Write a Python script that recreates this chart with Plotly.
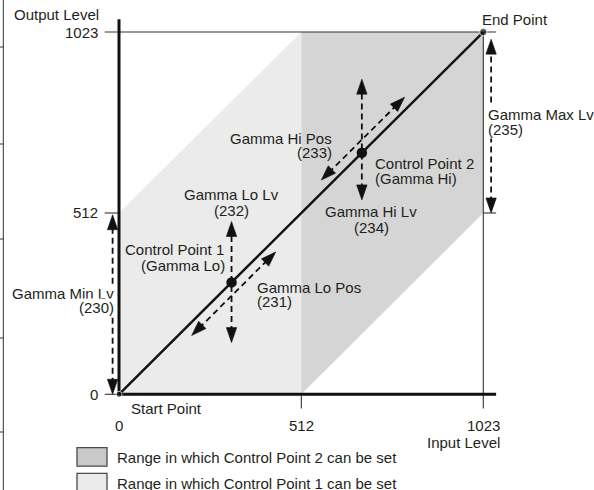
import math
import plotly.graph_objects as go

# ---------------- data ----------------
tick_values = [0, 512, 1023]
tick_labels = ["0", "512", "1023"]
axis_end = 1059            # axis lines run slightly past 1023
tick_len = 40              # tick length in data units

start_point = [0, 0]
end_point = [1023, 1023]
cp1 = [316, 316]           # Control Point 1 (Gamma Lo)
cp2 = [682, 682]           # Control Point 2 (Gamma Hi)

cp1_range_x = [0, 512, 512, 0]
cp1_range_y = [0, 0, 1023, 512]
cp2_range_x = [512, 1023, 1023, 512]
cp2_range_y = [0, 512, 1023, 1023]

# double arrows: [tipA, tipB]
gamma_min_lv_x = [-18, -18]
gamma_min_lv_y = [0, 507]
gamma_max_lv_x = [1045, 1045]
gamma_max_lv_y = [512, 1003]
gamma_lo_lv_x = [316, 316]
gamma_lo_lv_y = [146, 488]
gamma_lo_pos_x = [204, 440]
gamma_lo_pos_y = [166, 402]
gamma_hi_lv_x = [682, 682]
gamma_hi_lv_y = [549, 890]
gamma_hi_pos_x = [568, 802]
gamma_hi_pos_y = [605, 839]

legend_labels = ["Range in which Control Point 2 can be set",
                 "Range in which Control Point 1 can be set"]

# ---------------- style ----------------
FONT = "Liberation Sans, Arial, Helvetica, sans-serif"
TXT = "#231f20"
FS = 15
LIGHT = "#ebebeb"
DARK = "#d5d5d5"
W, H = 594, 490
XR = [-334.2, 1333.9]
YR = [-270.3, 1113.5]
SX = W / (XR[1] - XR[0])   # px per data unit
SY = H / (YR[1] - YR[0])

fig = go.Figure()

# range polygons
fig.add_trace(go.Scatter(x=cp1_range_x, y=cp1_range_y, fill="toself", mode="none",
                         fillcolor=LIGHT, hoverinfo="skip", showlegend=False))
fig.add_trace(go.Scatter(x=cp2_range_x, y=cp2_range_y, fill="toself", mode="none",
                         fillcolor=DARK, hoverinfo="skip", showlegend=False))

def line(xs, ys, width, color="#111", dash=None):
    fig.add_trace(go.Scatter(x=xs, y=ys, mode="lines",
                             line=dict(color=color, width=width, dash=dash),
                             hoverinfo="skip", showlegend=False, cliponaxis=False))

# thin reference lines & ticks
line([-tick_len, axis_end], [tick_values[2]] * 2, 1.1, "#333")
line([tick_values[2]] * 2, [-tick_len, tick_values[2]], 1.1, "#333")
line([tick_values[2], axis_end], [tick_values[1]] * 2, 1.1, "#333")
for v in tick_values[:2]:
    line([-tick_len, 0], [v, v], 1.1, "#333")
line([tick_values[1]] * 2, [-tick_len, 0], 1.1, "#333")

# thick axes
line([0, 0], [0, axis_end], 3, "#111")
line([0, axis_end], [0, 0], 3, "#111")
# gamma curve (straight line)
line([start_point[0], end_point[0]], [start_point[1], end_point[1]], 2.4, "#111")

# dashed double arrows with filled heads
HEAD_L, HEAD_W = 15.0, 5.2   # px

def head(tip, other):
    dx = (tip[0] - other[0]) * SX
    dy = (tip[1] - other[1]) * SY
    n = math.hypot(dx, dy)
    ux, uy = dx / n, dy / n
    bx, by = -ux * HEAD_L, -uy * HEAD_L
    px_, py_ = -uy * HEAD_W, ux * HEAD_W
    xs = [tip[0], tip[0] + (bx + px_) / SX, tip[0] + (bx - px_) / SX, tip[0]]
    ys = [tip[1], tip[1] + (by + py_) / SY, tip[1] + (by - py_) / SY, tip[1]]
    base = (tip[0] + bx * 0.7 / SX, tip[1] + by * 0.7 / SY)
    return xs, ys, base

def double_arrow(xs, ys):
    a, b = (xs[0], ys[0]), (xs[1], ys[1])
    hx1, hy1, base1 = head(a, b)
    hx2, hy2, base2 = head(b, a)
    line([base1[0], base2[0]], [base1[1], base2[1]], 1.8, "#111", "6px,4px")
    for hx, hy in [(hx1, hy1), (hx2, hy2)]:
        fig.add_trace(go.Scatter(x=hx, y=hy, mode="lines", fill="toself",
                                 fillcolor="#111", line=dict(color="#111", width=0.6),
                                 hoverinfo="skip", showlegend=False, cliponaxis=False))

for ax_, ay_ in [(gamma_min_lv_x, gamma_min_lv_y), (gamma_max_lv_x, gamma_max_lv_y),
                 (gamma_lo_lv_x, gamma_lo_lv_y), (gamma_lo_pos_x, gamma_lo_pos_y),
                 (gamma_hi_lv_x, gamma_hi_lv_y), (gamma_hi_pos_x, gamma_hi_pos_y)]:
    double_arrow(ax_, ay_)

# points
fig.add_trace(go.Scatter(x=[cp1[0], cp2[0]], y=[cp1[1], cp2[1]], mode="markers",
                         marker=dict(size=10.5, color="#111"), hoverinfo="skip",
                         showlegend=False))
fig.add_trace(go.Scatter(x=[start_point[0], end_point[0]], y=[start_point[1], end_point[1]],
                         mode="markers", marker=dict(size=[6, 7.5], color="#111"),
                         hoverinfo="skip", showlegend=False, cliponaxis=False))

ann = []
def text(t, x, y, xa="left", ya="middle", bg=None):
    d = dict(text=t, x=x, y=y, xref="x", yref="y", showarrow=False,
             xanchor=xa, yanchor=ya, font=dict(family=FONT, size=FS, color=TXT),
             borderpad=0)
    if bg:
        d["bgcolor"] = bg
    ann.append(d)

# tick labels
for v, lab in zip(tick_values, tick_labels):
    text(lab, -56, v, xa="right")
    text(lab, v, -87, xa="center")
text("Output Level", -298, 1072)
text("Input Level", 1072, -137, xa="right")
text("Start Point", 31, -39)
text("End Point", 1016, 1059)

text("Gamma Max Lv", 1034, 789, bg="white")
text("(235)", 1034, 747, bg="white")
text("Gamma Min Lv", -11, 285, xa="right", bg="white")
text("(230)", -11, 246, xa="right", bg="white")

text("Gamma Lo Lv", 317, 564, xa="center")
text("(232)", 317, 520, xa="center")
text("Control Point 1", 299, 409, xa="right")
text("(Gamma Lo)", 301, 364, xa="right")
text("Gamma Lo Pos", 385, 302)
text("(231)", 385, 261)

text("Gamma Hi Pos", 602, 723, xa="right")
text("(233)", 602, 682, xa="right")
text("Control Point 2", 716, 652)
text("(Gamma Hi)", 716, 610)
text("Gamma Hi Lv", 708, 516, xa="center")
text("(234)", 708, 472, xa="center")

# legend (drawn manually)
shapes = []
leg_fill = ["#c9c9c9", "#ebebeb"]
leg_top = [447.7, 473.3]
for i, lab in enumerate(legend_labels):
    y0 = 1 - leg_top[i] / H
    y1 = 1 - (leg_top[i] + 18.5) / H
    shapes.append(dict(type="rect", xref="paper", yref="paper",
                       x0=77 / W, x1=107 / W, y0=y1, y1=y0,
                       fillcolor=leg_fill[i], line=dict(color="#4a4a4a", width=1.3)))
    ann.append(dict(text=lab, xref="paper", yref="paper", x=115 / W,
                    y=1 - (leg_top[i] + 10) / H, xanchor="left", yanchor="middle",
                    showarrow=False, font=dict(family=FONT, size=FS, color=TXT)))

# page border artefact at the left edge
shapes.append(dict(type="line", xref="paper", yref="paper", x0=3.3 / W, x1=3.3 / W,
                   y0=0, y1=1, line=dict(color="#333", width=1)))
for py in [47, 144, 239, 338, 432]:
    shapes.append(dict(type="line", xref="paper", yref="paper", x0=0, x1=3.3 / W,
                       y0=1 - py / H, y1=1 - py / H, line=dict(color="#333", width=1)))

fig.update_layout(
    width=W, height=H, autosize=False,
    margin=dict(l=0, r=0, t=0, b=0),
    paper_bgcolor="white", plot_bgcolor="white",
    xaxis=dict(range=XR, visible=False, fixedrange=True),
    yaxis=dict(range=YR, visible=False, fixedrange=True),
    annotations=ann, shapes=shapes, showlegend=False,
)

fig.write_html("out.html", config={"displayModeBar": False},
               post_script="document.body.style.margin='0px';"
                           "document.body.style.overflow='hidden';")
